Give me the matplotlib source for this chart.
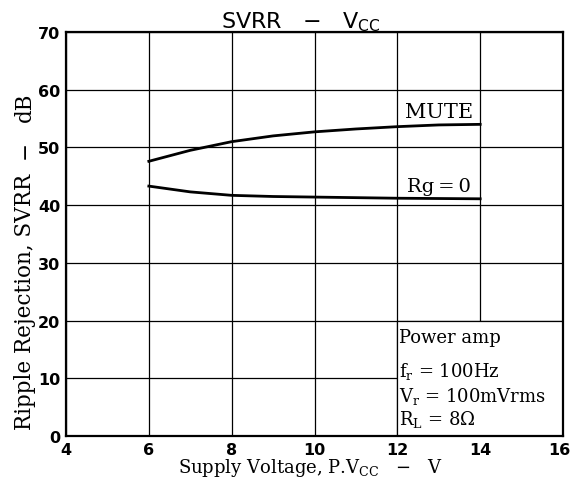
import numpy as np
import matplotlib
matplotlib.use("Agg")
import matplotlib.pyplot as plt
import matplotlib.transforms as mtransforms
from matplotlib.patches import Rectangle

plt.rcParams['mathtext.fontset'] = 'dejavuserif'

# curve readings from the datasheet plot
vcc = [6, 7, 8, 9, 10, 11, 12, 13, 14]
svrr_mute = [47.6, 49.5, 51.0, 52.0, 52.7, 53.2, 53.6, 53.9, 54.0]
svrr_rg0 = [43.3, 42.3, 41.7, 41.5, 41.4, 41.3, 41.2, 41.15, 41.1]

x_ticks = [4, 6, 8, 10, 12, 14, 16]
y_ticks = [0, 10, 20, 30, 40, 50, 60, 70]

W, H = 571, 489
fig = plt.figure(figsize=(W / 100, H / 100), dpi=100)
ax = fig.add_axes([0.1156, 0.1063, 0.8704, 0.8262])

ax.set_xlim(4, 16)
ax.set_ylim(0, 70)
ax.set_xticks(x_ticks)
ax.set_yticks(y_ticks)
ax.grid(True, color='black', linewidth=0.9)
ax.tick_params(length=0, pad=4)
for lab in ax.get_xticklabels() + ax.get_yticklabels():
    lab.set_fontweight('bold')
    lab.set_fontsize(11.5)
# last x label sits inside the figure edge
last = ax.get_xticklabels()[-1]
last.set_transform(last.get_transform() +
                   mtransforms.ScaledTranslation(-4 / 100, 0, fig.dpi_scale_trans))
for s in ax.spines.values():
    s.set_linewidth(1.6)

# condition box covers the grid in the lower right corner
ax.add_patch(Rectangle((12, 0), 4, 20, facecolor='white', edgecolor='black',
                       linewidth=0.9, zorder=2))

ax.plot(vcc, svrr_mute, color='black', linewidth=2.0, zorder=3)
ax.plot(vcc, svrr_rg0, color='black', linewidth=2.0, zorder=3)

serif = 'DejaVu Serif'
ax.text(13.0, 55.3, 'MUTE', family=serif, fontsize=15, ha='center', va='baseline', zorder=4)
ax.text(13.0, 42.4, 'Rg\u2009=\u20090', family=serif, fontsize=14, ha='center', va='baseline', zorder=4)

ax.text(12.05, 16.3, 'Power amp', family=serif, fontsize=13, va='baseline', zorder=4)
ax.text(12.05, 10.4, r'f$_\mathrm{r}$ = 100Hz', family=serif, fontsize=13, va='baseline', zorder=4)
ax.text(12.05, 6.1, r'V$_\mathrm{r}$ = 100mVrms', family=serif, fontsize=13, va='baseline', zorder=4)
ax.text(12.05, 2.1, r'R$_\mathrm{L}$ = 8$\Omega$', family=serif, fontsize=13, va='baseline', zorder=4)

fig.text(301 / W, 1 - 28 / H, r'SVRR   $-$   V$_\mathrm{CC}$', fontsize=16,
         ha='center', va='baseline', math_fontfamily='dejavusans')
fig.text(311 / W, 1 - 473 / H, r'Supply Voltage, P.V$_\mathrm{CC}$   $-$   V',
         family=serif, fontsize=13, ha='center', va='baseline')

# y axis title, in three pieces as spaced on the sheet
ylab = dict(family=serif, fontsize=15.5, rotation=90, rotation_mode='anchor', va='baseline')
fig.text(31 / W, 1 - 430 / H, 'Ripple Rejection, SVRR', ha='left', **ylab)
fig.text(31 / W, 1 - 150 / H, '\u2212', ha='center', **ylab)
fig.text(31 / W, 1 - 122 / H, 'dB', ha='left', **ylab)

fig.savefig('out.png', dpi=100)
